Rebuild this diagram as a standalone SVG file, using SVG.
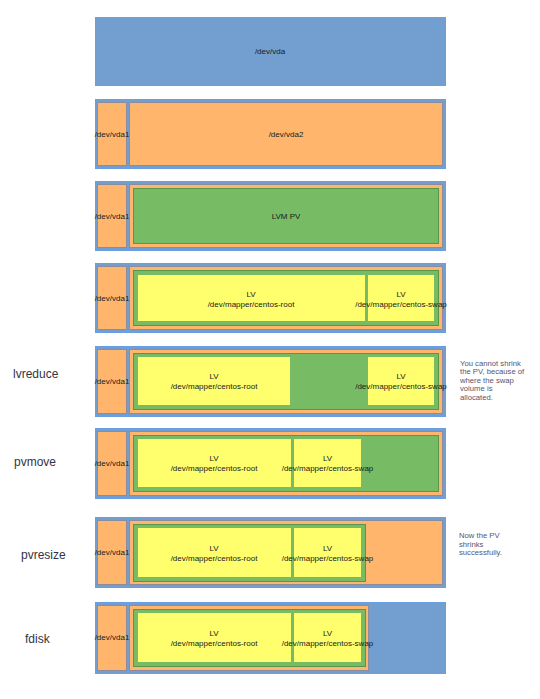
<svg xmlns="http://www.w3.org/2000/svg" width="540" height="699" viewBox="0 0 540 699">
<style>
.disk{fill:#729fcf;stroke:#6a9ee2;stroke-width:1}
.part{fill:#ffb66c;stroke:#8c8ca0;stroke-width:1}
.pv{fill:#77bc65;stroke:#5a9647;stroke-width:1}
.lv{fill:#ffff6d;stroke:#77bc65;stroke-width:2}
text{font-family:"Liberation Sans",Arial,sans-serif}
.t{font-size:8px;fill:#1a1a1a;text-anchor:middle}
.lab{font-size:12px;fill:#333344}
.note{font-size:7.7px;fill:#555570}
</style>
<rect width="540" height="699" fill="#ffffff"/>

<g id="row1">
<rect class="disk" x="95.5" y="17.5" width="350" height="68"/>
<text class="t" x="270" y="54">/dev/vda</text>
</g>

<g id="row2">
<rect class="disk" x="95.5" y="99.5" width="350" height="69"/>
<rect class="part" x="97.5" y="102.5" width="29" height="63"/>
<text class="t" x="112" y="137">/dev/vda1</text>
<rect class="part" x="129.5" y="102.5" width="313" height="63"/>
<text class="t" x="286" y="137">/dev/vda2</text>
</g>

<g id="row3">
<rect class="disk" x="95.5" y="181.5" width="350" height="69"/>
<rect class="part" x="97.5" y="184.5" width="29" height="63"/>
<text class="t" x="112" y="219">/dev/vda1</text>
<rect class="part" x="129.5" y="184.5" width="313" height="63"/>
<rect class="pv" x="133.5" y="188.5" width="305" height="55"/>
<text class="t" x="286" y="219">LVM PV</text>
</g>

<g id="row4">
<rect class="disk" x="95.5" y="263.5" width="350" height="69"/>
<rect class="part" x="97.5" y="266.5" width="29" height="63"/>
<text class="t" x="112" y="301">/dev/vda1</text>
<rect class="part" x="129.5" y="266.5" width="313" height="63"/>
<rect class="pv" x="133.5" y="270.5" width="305" height="55"/>
<rect class="lv" x="137" y="274" width="229" height="48"/>
<rect class="lv" x="367" y="274" width="68" height="48"/>
<text class="t" x="251" y="296.5">LV</text>
<text class="t" x="251" y="306.5">/dev/mapper/centos-root</text>
<text class="t" x="401" y="296.5">LV</text>
<text class="t" x="401" y="306.5">/dev/mapper/centos-swap</text>
</g>

<g id="row5">
<text class="lab" x="13" y="378">lvreduce</text>
<rect class="disk" x="95.5" y="346.5" width="350" height="70"/>
<rect class="part" x="97.5" y="349.5" width="29" height="64"/>
<text class="t" x="112" y="384">/dev/vda1</text>
<rect class="part" x="129.5" y="349.5" width="313" height="64"/>
<rect class="pv" x="133.5" y="353.5" width="305" height="56"/>
<rect class="lv" x="137" y="356" width="154" height="50"/>
<rect class="lv" x="367" y="356" width="68" height="50"/>
<text class="t" x="214" y="379">LV</text>
<text class="t" x="214" y="389">/dev/mapper/centos-root</text>
<text class="t" x="401" y="379">LV</text>
<text class="t" x="401" y="389">/dev/mapper/centos-swap</text>
<text class="note" x="460" y="365.5">You cannot shrink</text>
<text class="note" x="460" y="374">the PV, because of</text>
<text class="note" x="460" y="382.5">where the swap</text>
<text class="note" x="460" y="391">volume is</text>
<text class="note" x="460" y="399.5">allocated.</text>
</g>

<g id="row6">
<text class="lab" x="14" y="466">pvmove</text>
<rect class="disk" x="95.5" y="428.5" width="350" height="70"/>
<rect class="part" x="97.5" y="431.5" width="29" height="64"/>
<text class="t" x="112" y="466">/dev/vda1</text>
<rect class="part" x="129.5" y="431.5" width="313" height="64"/>
<rect class="pv" x="133.5" y="435.5" width="305" height="56"/>
<rect class="lv" x="137" y="438" width="155" height="50"/>
<rect class="lv" x="293" y="438" width="69" height="50"/>
<text class="t" x="214" y="461">LV</text>
<text class="t" x="214" y="471">/dev/mapper/centos-root</text>
<text class="t" x="327.5" y="461">LV</text>
<text class="t" x="327.5" y="471">/dev/mapper/centos-swap</text>
</g>

<g id="row7">
<text class="lab" x="21" y="559">pvresize</text>
<rect class="disk" x="95.5" y="517.5" width="350" height="70"/>
<rect class="part" x="97.5" y="520.5" width="29" height="64"/>
<text class="t" x="112" y="555">/dev/vda1</text>
<rect class="part" x="129.5" y="520.5" width="313" height="64"/>
<rect class="pv" x="133.5" y="524.5" width="232" height="57"/>
<rect class="lv" x="137" y="527" width="155" height="51"/>
<rect class="lv" x="293" y="527" width="69" height="51"/>
<text class="t" x="214" y="550.5">LV</text>
<text class="t" x="214" y="560.5">/dev/mapper/centos-root</text>
<text class="t" x="327.5" y="550.5">LV</text>
<text class="t" x="327.5" y="560.5">/dev/mapper/centos-swap</text>
<text class="note" x="459" y="538">Now the PV</text>
<text class="note" x="459" y="546.5">shrinks</text>
<text class="note" x="459" y="555">successfully.</text>
</g>

<g id="row8">
<text class="lab" x="25" y="643">fdisk</text>
<rect class="disk" x="95.5" y="602.5" width="350" height="71"/>
<rect class="part" x="97.5" y="605.5" width="29" height="65"/>
<text class="t" x="112" y="640">/dev/vda1</text>
<rect class="part" x="129.5" y="605.5" width="239" height="65"/>
<rect class="pv" x="133.5" y="609.5" width="232" height="57"/>
<rect class="lv" x="137" y="612" width="155" height="51"/>
<rect class="lv" x="293" y="612" width="69" height="51"/>
<text class="t" x="214" y="635.5">LV</text>
<text class="t" x="214" y="645.5">/dev/mapper/centos-root</text>
<text class="t" x="327.5" y="635.5">LV</text>
<text class="t" x="327.5" y="645.5">/dev/mapper/centos-swap</text>
</g>

<g id="connectors"></g>
</svg>
